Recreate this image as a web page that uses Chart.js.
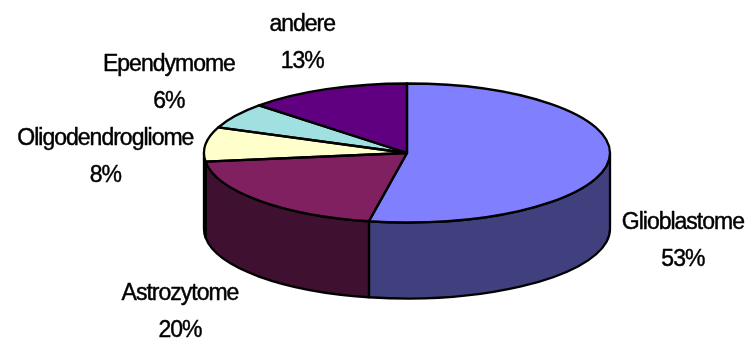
<!DOCTYPE html>
<html>
<head>
<meta charset="utf-8">
<script src="https://cdn.jsdelivr.net/npm/chart.js@4"></script>
<style>
  html, body { margin: 0; padding: 0; background: #ffffff; }
  #wrap { width: 748px; height: 345px; }
</style>
</head>
<body>
<div id="wrap"><canvas id="pie"></canvas></div>
<script>
// Daten
const tumorLabels = ['Glioblastome', 'Astrozytome', 'Oligodendrogliome', 'Ependymome', 'andere'];
const tumorValues = [53, 20, 8, 6, 13];
const topColors = ['#8080FF', '#802060', '#FFFFCC', '#A0E0E0', '#600080'];
const sideColors = ['#40407F', '#401030', '#808066', '#507070', '#300040'];

// Ellipse des 3D-Kuchens
const ELL = { rx: 203, ry: 69.5, depth: 76 };
// kleine Verschiebungen der Beschriftungen (wie Excel sie setzt)
const labelNudge = [[0, 0], [-27, -2], [0, 20], [0, -3], [-6, 5]];

function sliceGeom(chart) {
    const meta = chart.getDatasetMeta(0);
    return meta.data.map(el => ({
        x: el.x, y: el.y, r: el.outerRadius,
        start: el.startAngle, end: el.endAngle
    }));
}

const pie3d = {
    id: 'pie3d',
    // Seitenwaende zuerst
    beforeDatasetsDraw(chart) {
        const ctx = chart.ctx;
        const g = sliceGeom(chart);
        ctx.save();
        ctx.lineWidth = 2.3;
        ctx.strokeStyle = '#000';
        ctx.lineJoin = 'round';
        g.forEach((s, i) => {
            const a = Math.max(s.start, 0);
            const b = Math.min(s.end, Math.PI);
            if (a >= b) return;
            ctx.beginPath();
            ctx.ellipse(s.x, s.y, ELL.rx, ELL.ry, 0, a, b);
            ctx.lineTo(s.x + ELL.rx * Math.cos(b), s.y + ELL.depth + ELL.ry * Math.sin(b));
            ctx.ellipse(s.x, s.y + ELL.depth, ELL.rx, ELL.ry, 0, b, a, true);
            ctx.closePath();
            ctx.fillStyle = sideColors[i];
            ctx.fill();
            ctx.stroke();
        });
        ctx.restore();
    },
    // Oberseite: Kreis zur Ellipse stauchen
    beforeDatasetDraw(chart) {
        const ctx = chart.ctx;
        const s = sliceGeom(chart)[0];
        ctx.save();
        ctx.translate(s.x, s.y);
        ctx.scale(ELL.rx / s.r, ELL.ry / s.r);
        ctx.translate(-s.x, -s.y);
    },
    afterDatasetDraw(chart) {
        chart.ctx.restore();
    },
    afterDatasetsDraw(chart) {
        const ctx = chart.ctx;
        const g = sliceGeom(chart);
        ctx.save();
        ctx.lineWidth = 2.3;
        ctx.strokeStyle = '#000';
        ctx.lineJoin = 'round';
        g.forEach(s => {
            ctx.beginPath();
            ctx.moveTo(s.x, s.y);
            ctx.ellipse(s.x, s.y, ELL.rx, ELL.ry, 0, s.start, s.end);
            ctx.closePath();
            ctx.stroke();
        });

        // Beschriftungen
        const total = tumorValues.reduce((a, b) => a + b, 0);
        ctx.font = '23px "Liberation Sans", Arial, sans-serif';
        ctx.letterSpacing = '-1px';
        ctx.fillStyle = '#000';
        ctx.strokeStyle = '#000';
        ctx.lineWidth = 0.45;
        ctx.textAlign = 'center';
        ctx.textBaseline = 'middle';
        const lineH = 37;
        g.forEach((s, i) => {
            const pct = Math.round(tumorValues[i] / total * 100) + '%';
            const w = Math.max(ctx.measureText(tumorLabels[i]).width, ctx.measureText(pct).width);
            const mid = (s.start + s.end) / 2;
            const ux = Math.cos(mid), uy = Math.sin(mid);
            const lx = s.x + (ELL.rx + 13 + w / 2) * ux + labelNudge[i][0];
            const ly = s.y + (ELL.ry + 18.5 + lineH) * uy + (uy > 0 ? ELL.depth : 0) + labelNudge[i][1];
            [[tumorLabels[i], ly - lineH / 2], [pct, ly + lineH / 2]].forEach(([t, y]) => {
                ctx.fillText(t, lx, y);
                ctx.strokeText(t, lx, y);
            });
        });
        ctx.restore();
    }
};

new Chart(document.getElementById('pie'), {
    type: 'pie',
    data: {
        labels: tumorLabels,
        datasets: [{
            data: tumorValues,
            backgroundColor: topColors,
            borderWidth: 0,
            clip: false
        }]
    },
    options: {
        responsive: true,
        maintainAspectRatio: false,
        animation: false,
        events: [],
        layout: {
            padding: { left: 257, right: 191, top: 3, bottom: 42 }
        },
        plugins: {
            legend: { display: false },
            tooltip: { enabled: false }
        }
    },
    plugins: [pie3d]
});
</script>
</body>
</html>
